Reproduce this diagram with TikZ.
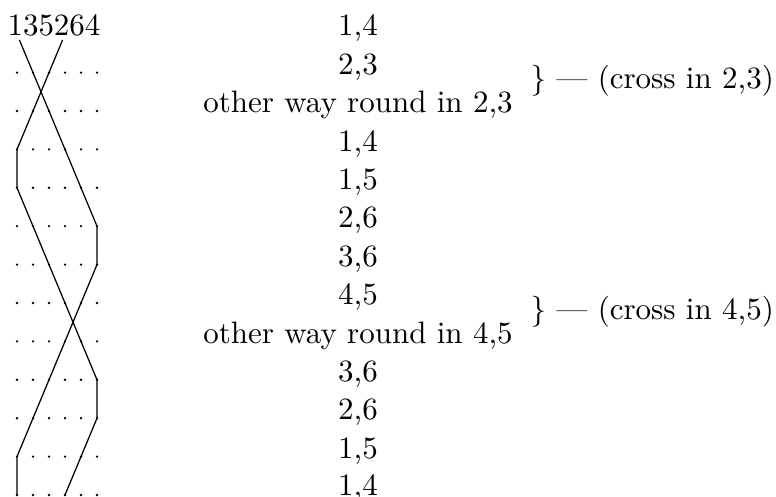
\documentclass[tikz,border=0pt]{standalone}
\usetikzlibrary{calc}

\begin{document}
\begin{tikzpicture}[x=0.3226pt, y=-0.3226pt,
    entry/.style={anchor=base, inner sep=0pt},
    remark/.style={anchor=base west, inner sep=0pt}]
    \useasboundingbox (0,0) rectangle (776,497);

    % Define coordinates
    \foreach \r in {0,...,12} {
        \foreach \c in {1,...,6} {
            \coordinate (p-\r-\c) at ({17+16*(\c-1)}, {34.2+38.4*\r});
        }
    }

    % Draw the dots
    \foreach \r in {1,...,12} {
        \foreach \c in {1,...,6} {
            \fill (p-\r-\c) circle[radius=0.42pt];
        }
    }

    % Draw the two strands
    \draw ($(p-0-1)!0.15!(p-1-2)$) -- (p-1-2) -- (p-2-3) -- (p-3-4) -- (p-4-5)
        -- (p-5-6) -- (p-6-6) -- (p-7-5) -- (p-8-4) -- (p-9-3) -- (p-10-2)
        -- (p-11-1) -- (p-12-1);
    \draw ($(p-0-4)!0.15!(p-1-3)$) -- (p-1-3) -- (p-2-2) -- (p-3-1) -- (p-4-1)
        -- (p-5-2) -- (p-6-3) -- (p-7-4) -- (p-8-5) -- (p-9-6) -- (p-10-6)
        -- (p-11-5) -- (p-12-4);

    % Label the rows
    \node[entry] (perm) at (54,36) {135264};
    \node[entry] (e0) at (358,36.0) {1,4};
    \node[entry] (e1) at (358,74.4) {2,3};
    \node[entry] (e2) at (358,112.8) {other way round in 2,3};
    \node[entry] (e3) at (358,151.2) {1,4};
    \node[entry] (e4) at (358,189.6) {1,5};
    \node[entry] (e5) at (358,228.0) {2,6};
    \node[entry] (e6) at (358,266.4) {3,6};
    \node[entry] (e7) at (358,304.8) {4,5};
    \node[entry] (e8) at (358,343.2) {other way round in 4,5};
    \node[entry] (e9) at (358,381.6) {3,6};
    \node[entry] (e10) at (358,420.0) {2,6};
    \node[entry] (e11) at (358,458.4) {1,5};
    \node[entry] (e12) at (358,495.5) {1,4};

    % Crossings
    \node[remark] (x1) at (530,89) {\} \textemdash{} (cross in 2,3)};
    \node[remark] (x2) at (530,320) {\} \textemdash{} (cross in 4,5)};
\end{tikzpicture}
\end{document}
